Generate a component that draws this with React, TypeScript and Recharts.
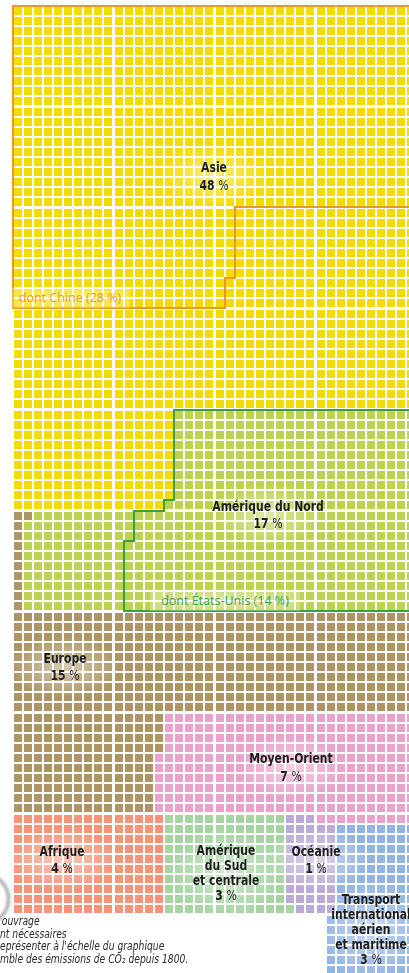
import React from "react";
import { ScatterChart, Scatter, XAxis, YAxis, ReferenceLine } from "recharts";

// regions, in the order the grid is filled
const regionNames = [
  "Asie",
  "Amérique du Nord",
  "Europe",
  "Moyen-Orient",
  "Afrique",
  "Amérique du Sud et centrale",
  "Océanie",
  "Transport international aérien et maritime",
];
const regionLines = [
  ["Asie"],
  ["Amérique du Nord"],
  ["Europe"],
  ["Moyen-Orient"],
  ["Afrique"],
  ["Amérique", "du Sud", "et centrale"],
  ["Océanie"],
  ["Transport", "international", "aérien", "et maritime"],
];
const regionShares = [48, 17, 15, 7, 4, 3, 1, 3];
// number of small squares counted for each region
const regionCells = [1759, 630, 555, 266, 150, 121, 47, 126];
const regionColors = ["#F3DC05", "#BED251", "#AE9564", "#E8A2CB", "#F4957A", "#A6D5A3", "#BBA9D6", "#92B4E2"];

// outlined sub-regions (first cells of their parent region)
const subNames = ["dont Chine", "dont États-Unis"];
const subShares = [28, 14];
const subCells = [1017, 528];
const subParents = [0, 1];
const subColors = ["#E99A26", "#3AA23C"];

const noteLines = [
  "ouvrage",
  "nt nécessaires",
  "eprésenter à l'échelle du graphique",
  "mble des émissions de CO₂ depuis 1800.",
];

const COLS = 40;
const BAND = 10;
const GAP = 0.1; // extra space between 10x10 blocks, in cell units
const ux = (c: number) => c + GAP * Math.floor(c / BAND);
const vy = (r: number) => r + GAP * Math.floor(r / BAND);

type Cell = [number, number];

// order in which the squares were filled, band by band
function fillPath(): Cell[] {
  const path: Cell[] = [];
  const used = new Set<number>();
  const add = (c: number, r: number) => {
    const k = c * 1000 + r;
    if (!used.has(k)) {
      used.add(k);
      path.push([c, r]);
    }
  };
  const column = (c: number, b: number, down: boolean) => {
    for (let i = 0; i < BAND; i++) add(c, b * BAND + (down ? i : BAND - 1 - i));
  };
  for (let b = 0; b < 5; b++) for (let c = 0; c < COLS; c++) column(c, b, true);
  for (let c = COLS - 1; c >= 0; c--) column(c, 5, false);
  for (let b = 6; b < 8; b++) for (let c = 0; c < COLS; c++) column(c, b, true);
  for (let c = 30; c < COLS; c++) add(c, 80);
  for (let c = 0; c < COLS; c++) column(c, 8, false);
  for (let r = 90; r < 100; r++) for (let c = 31; c < COLS; c++) add(c, r);
  return path;
}

const path = fillPath();
const regionCellLists: Cell[][] = [];
{
  let start = 0;
  regionCells.forEach((n) => {
    regionCellLists.push(path.slice(start, start + n));
    start += n;
  });
}

type Seg = [{ x: number; y: number }, { x: number; y: number }];

function outline(cells: Cell[]): Seg[] {
  const set = new Set(cells.map(([c, r]) => c * 1000 + r));
  const has = (c: number, r: number) => set.has(c * 1000 + r);
  const segs: Seg[] = [];
  const runs = (items: number[]) => {
    const s = [...items].sort((a, b) => a - b);
    const out: [number, number][] = [];
    s.forEach((v) => {
      const last = out[out.length - 1];
      if (last && last[1] === v - 1) last[1] = v;
      else out.push([v, v]);
    });
    return out;
  };
  const hTop = new Map<number, number[]>();
  const hBot = new Map<number, number[]>();
  const vLeft = new Map<number, number[]>();
  const vRight = new Map<number, number[]>();
  const push = (m: Map<number, number[]>, k: number, v: number) => {
    if (!m.has(k)) m.set(k, []);
    m.get(k)!.push(v);
  };
  cells.forEach(([c, r]) => {
    if (!has(c, r - 1)) push(hTop, r, c);
    if (!has(c, r + 1)) push(hBot, r, c);
    if (!has(c - 1, r)) push(vLeft, c, r);
    if (!has(c + 1, r)) push(vRight, c, r);
  });
  hTop.forEach((cs, r) =>
    runs(cs).forEach(([a, b]) => segs.push([{ x: ux(a) - 0.5, y: vy(r) - 0.5 }, { x: ux(b) + 0.5, y: vy(r) - 0.5 }]))
  );
  hBot.forEach((cs, r) =>
    runs(cs).forEach(([a, b]) => segs.push([{ x: ux(a) - 0.5, y: vy(r) + 0.5 }, { x: ux(b) + 0.5, y: vy(r) + 0.5 }]))
  );
  vLeft.forEach((rs, c) =>
    runs(rs).forEach(([a, b]) => segs.push([{ x: ux(c) - 0.5, y: vy(a) - 0.5 }, { x: ux(c) - 0.5, y: vy(b) + 0.5 }]))
  );
  vRight.forEach((rs, c) =>
    runs(rs).forEach(([a, b]) => segs.push([{ x: ux(c) + 0.5, y: vy(a) - 0.5 }, { x: ux(c) + 0.5, y: vy(b) + 0.5 }]))
  );
  return segs;
}

const labelFont = "'DejaVu Sans Condensed', 'Liberation Sans', Arial, sans-serif";

// label anchor: centre x, first line centre y, line height
const labelPos = [
  [214, 167, 18],
  [268, 506, 17],
  [65, 658, 17],
  [291, 758, 18],
  [62, 851, 17],
  [226, 850, 15],
  [316, 851, 17],
  [371, 899, 15],
];
const subPos = [
  [70, 298],
  [225, 601],
];

const App = () => {
  return (
    <div
      style={{
        position: "absolute",
        left: 0,
        top: 0,
        width: 409,
        height: 973,
        overflow: "hidden",
        background: "#fff",
      }}
    >
      <ScatterChart width={409} height={973} margin={{ top: 0, right: 0, bottom: 0, left: 0 }}>
        <XAxis type="number" dataKey="x" domain={[-1.8, 39.1]} hide allowDataOverflow />
        <YAxis type="number" dataKey="y" domain={[-1.1, 96.2]} reversed hide allowDataOverflow />
        {regionCellLists.map((cells, i) => (
          <Scatter
            key={regionNames[i]}
            name={regionNames[i]}
            data={cells.map(([c, r]) => ({ x: ux(c), y: vy(r) }))}
            isAnimationActive={false}
            shape={(p: any) => <rect x={p.cx - 4} y={p.cy - 4} width={8} height={8} fill={regionColors[i]} />}
          />
        ))}
        {subNames.map((name, i) =>
          outline(regionCellLists[subParents[i]].slice(0, subCells[i])).map((seg, j) => (
            <ReferenceLine
              key={name + j}
              segment={seg}
              stroke={subColors[i]}
              strokeWidth={2}
              strokeLinecap="square"
              ifOverflow="visible"
            />
          ))
        )}
      </ScatterChart>

      {regionLines.map((lines, i) => {
        const [cx, cy, lh] = labelPos[i];
        const n = lines.length + 1;
        return (
          <div key={regionNames[i]}>
            <div
              style={{
                position: "absolute",
                left: cx - 55,
                top: cy - lh / 2 - 14,
                width: 110,
                height: n * lh + 28,
                background: "radial-gradient(closest-side, rgba(255,255,255,0.5), rgba(255,255,255,0))",
              }}
            />
            <div
              style={{
                position: "absolute",
                left: cx - 100,
                top: cy - lh / 2,
                width: 200,
                textAlign: "center",
                fontFamily: labelFont,
                fontWeight: 700,
                fontSize: 14,
                lineHeight: `${lh}px`,
                color: "#1d1d1d",
                whiteSpace: "nowrap",
                transform: "scaleX(0.86)",
              }}
            >
              {lines.map((l) => (
                <div key={l}>{l}</div>
              ))}
              <div>
                {regionShares[i]} <span style={{ fontWeight: 400 }}>%</span>
              </div>
            </div>
          </div>
        );
      })}

      {subNames.map((name, i) => (
        <div
          key={name}
          style={{
            position: "absolute",
            left: subPos[i][0] - 60 - i * 15,
            top: subPos[i][1] - 10,
            width: 120 + i * 30,
            height: 20,
            textAlign: "center",
            fontFamily: "'Open Sans', 'Noto Sans', sans-serif",
            fontSize: 12.5,
            lineHeight: "20px",
            color: subColors[i],
            background: "radial-gradient(closest-side, rgba(255,255,255,0.55), rgba(255,255,255,0.25))",
            whiteSpace: "nowrap",
          }}
        >
          {name} ({subShares[i]} %)
        </div>
      ))}

      <div
        style={{
          position: "absolute",
          left: -44,
          top: 872,
          width: 48,
          height: 48,
          borderRadius: "50%",
          border: "3px solid rgba(80,80,80,0.55)",
          filter: "blur(1.5px)",
        }}
      />
      <div
        style={{
          position: "absolute",
          left: 0,
          top: 915,
          fontFamily: labelFont,
          fontStyle: "italic",
          fontSize: 11.5,
          lineHeight: "12.5px",
          color: "#2b2b2b",
          whiteSpace: "nowrap",
          transform: "scaleX(0.89)",
          transformOrigin: "left top",
        }}
      >
        {noteLines.map((l, i) => (
          <div key={i} style={{ paddingLeft: i === 0 ? 2 : 0 }}>
            {l}
          </div>
        ))}
      </div>
    </div>
  );
};

export default App;
